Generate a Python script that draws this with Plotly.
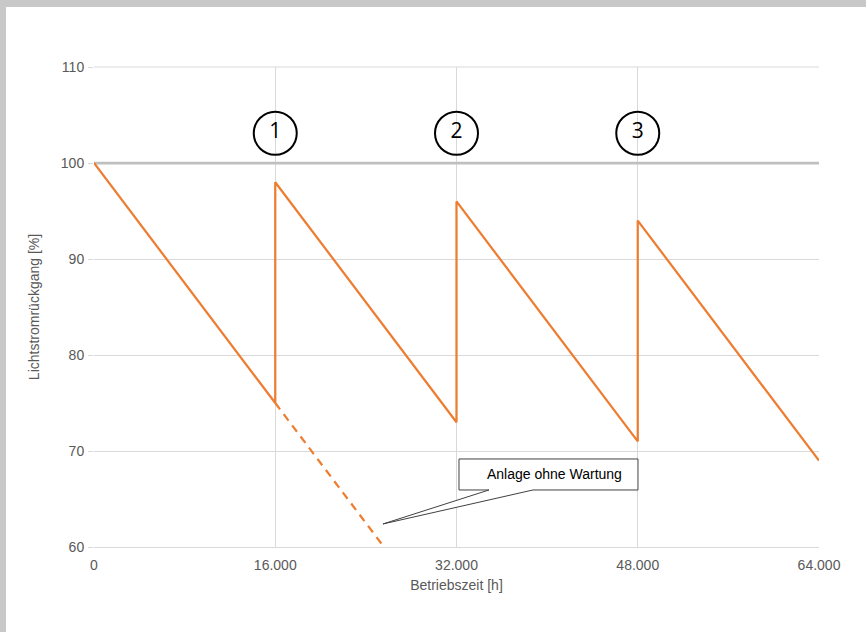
import plotly.graph_objects as go

# Data
hours = [0, 16000, 16000, 32000, 32000, 48000, 48000, 64000]
flux = [100, 75, 98, 73, 96, 71, 94, 69]
no_maint_hours = [16000, 25600]
no_maint_flux = [75, 60]
ref_hours = [0, 64000]
ref_flux = [100, 100]
maint_hours = [16000, 32000, 48000]
maint_labels = ["1", "2", "3"]
maint_level = [103.1, 103.1, 103.1]
x_ticks = [0, 16000, 32000, 48000, 64000]
y_ticks = [60, 70, 80, 90, 100, 110]
callout_text = "Anlage ohne Wartung"
callout_tip = (25510, 62.4)
callout_box = (32220, 48020, 65.94, 69.17)  # x0, x1, y0, y1
callout_base = (34870, 38750)

ORANGE = "#ED7D31"
GRID = "#D9D9D9"
TXT = "#595959"
FONT = "Liberation Sans, Arial"

fig = go.Figure()
fig.add_trace(go.Scatter(x=ref_hours, y=ref_flux, mode="lines",
                         line=dict(color="#BFBFBF", width=2.75), hoverinfo="skip"))
fig.add_trace(go.Scatter(x=no_maint_hours, y=no_maint_flux, mode="lines",
                         line=dict(color=ORANGE, width=2.25, dash="8px,6px")))
fig.add_trace(go.Scatter(x=hours, y=flux, mode="lines",
                         line=dict(color=ORANGE, width=2.25)))
fig.add_trace(go.Scatter(x=maint_hours, y=maint_level, mode="markers+text",
                         text=maint_labels, textposition="middle center",
                         textfont=dict(family="Open Sans", size=21, color="#000000"),
                         marker=dict(symbol="circle-open", size=43,
                                     color="#000000", line=dict(width=2, color="#000000"))))

x0, x1, y0, y1 = callout_box
b1, b2 = callout_base
tx, ty = callout_tip
path = (f"M {x0},{y1} L {x1},{y1} L {x1},{y0} L {b2},{y0} L {tx},{ty} "
        f"L {b1},{y0} L {x0},{y0} Z")
fig.add_shape(type="path", path=path, xref="x", yref="y",
              line=dict(color="#404040", width=1), fillcolor="white", layer="above")
fig.add_annotation(x=(x0 + x1) / 2 + 500, y=(y0 + y1) / 2, xref="x", yref="y",
                   text=callout_text, showarrow=False,
                   font=dict(family=FONT, size=14, color="#000000"))

# frame (top and left gray bands)
fig.add_shape(type="rect", xref="paper", yref="paper", x0=-94/725, x1=2, y0=540/480, y1=1.2,
              line=dict(width=0), fillcolor="#C8C8C8", layer="above")
fig.add_shape(type="rect", xref="paper", yref="paper", x0=-0.2, x1=-88/725, y0=-0.3, y1=1.2,
              line=dict(width=0), fillcolor="#C8C8C8", layer="above")
fig.add_shape(type="line", xref="paper", yref="paper", x0=0, x1=1, y0=1, y1=1,
              line=dict(color=GRID, width=1), layer="below")

fig.update_layout(
    width=866, height=632,
    margin=dict(l=94, r=47, t=67, b=85),
    paper_bgcolor="white", plot_bgcolor="white",
    showlegend=False,
    separators=",.",
    font=dict(family=FONT, size=14, color=TXT),
)
fig.update_xaxes(range=[0, 64000], tickvals=x_ticks, tickformat=",d",
                 tickfont=dict(family=FONT, size=14, color=TXT),
                 showgrid=True, gridcolor=GRID, gridwidth=1,
                 showline=True, linecolor=GRID, linewidth=1, mirror=False,
                 zeroline=False, ticks="", ticklabelstandoff=5,
                 title=dict(text="Betriebszeit [h]", font=dict(family=FONT, size=14, color=TXT), standoff=8))
fig.update_yaxes(range=[60, 110], tickvals=y_ticks,
                 tickfont=dict(family=FONT, size=14, color=TXT),
                 showgrid=True, gridcolor=GRID, gridwidth=1,
                 showline=False, zeroline=False,
                 ticks="outside", ticklen=5, tickcolor=GRID, ticklabelstandoff=1,
                 title=dict(text="Lichtstromrückgang [%]", font=dict(family=FONT, size=14, color=TXT), standoff=17))

fig.write_html("out.html", config={"displayModeBar": False},
               post_script="document.body.style.margin='0';")
